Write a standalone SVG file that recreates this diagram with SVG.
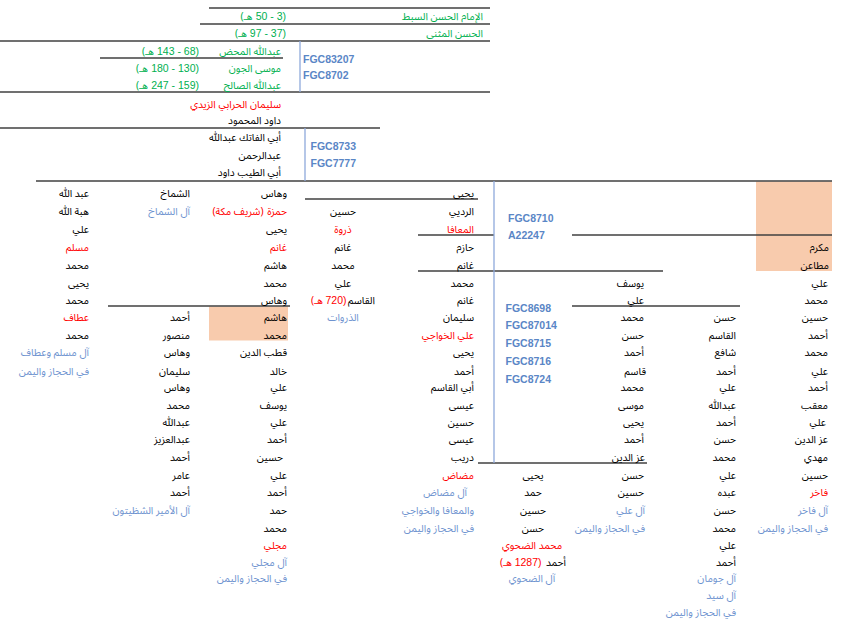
<svg xmlns="http://www.w3.org/2000/svg" width="851" height="628" viewBox="0 0 851 628">
<style>
text.t{font-family:"Noto Sans Arabic UI","Noto Sans Arabic","DejaVu Sans",sans-serif;font-size:10.3px;text-anchor:end;fill:#000}
text.d{font-family:"Liberation Sans",Arial,sans-serif;font-size:10.5px;text-anchor:end;fill:#000}
text.m{text-anchor:middle}
text.r{fill:#FF0000}
text.g{fill:#00B050}
text.b{fill:#6E93CF}
text.c{font-family:"Liberation Sans",Arial,sans-serif;font-weight:bold;font-size:10.5px;fill:#5A86C6}
.h line{stroke:#404040;stroke-width:1.3}
.v line{stroke:#8EA9DB;stroke-width:1.3}
.p{fill:#F8CBAD}
</style>
<rect width="851" height="628" fill="#fff"/>
<rect class="p" x="209" y="306.5" width="79" height="34"/>
<rect class="p" x="756" y="181.5" width="76" height="89.5"/>
<g id="connectors">
<g class="h">
<line x1="209" y1="8" x2="490" y2="8"/>
<line x1="200" y1="24" x2="490" y2="24"/>
<line x1="0" y1="41" x2="490" y2="41"/>
<line x1="100" y1="58" x2="283" y2="58"/>
<line x1="0" y1="92" x2="490" y2="92"/>
<line x1="0" y1="128" x2="380" y2="128"/>
<line x1="36" y1="181" x2="832" y2="181"/>
<line x1="305" y1="199" x2="478" y2="199"/>
<line x1="418" y1="235" x2="494" y2="235"/>
<line x1="572" y1="235" x2="832" y2="235"/>
<line x1="418" y1="271" x2="663" y2="271"/>
<line x1="108" y1="306" x2="290" y2="306"/>
<line x1="572" y1="306" x2="740" y2="306"/>
<line x1="478" y1="463" x2="647" y2="463"/>
</g>
<g class="v">
<line x1="300" y1="41" x2="300" y2="92"/>
<line x1="305" y1="128" x2="305" y2="181"/>
<line x1="494" y1="181" x2="494" y2="463"/>
</g>
</g>
<g id="top">
<text class="t g" x="483" y="20">الإمام الحسن السبط</text>
<text class="d g" x="286" y="20">50 - 3)</text>
<text class="t g" x="252.5" y="20">(هـ</text>
<text class="t g" x="483" y="37">الحسن المثنى</text>
<text class="d g" x="286" y="37">97 - 37)</text>
<text class="t g" x="247" y="37">(هـ</text>
<text class="t g" x="281" y="55">عبدالله المحض</text>
<text class="d g" x="199" y="55">143 - 68)</text>
<text class="t g" x="154" y="55">(هـ</text>
<text class="t g" x="281" y="71.5">موسى الجون</text>
<text class="d g" x="199" y="71.5">180 - 130)</text>
<text class="t g" x="148" y="71.5">(هـ</text>
<text class="t g" x="281" y="88.5">عبدالله الصالح</text>
<text class="d g" x="199" y="88.5">247 - 159)</text>
<text class="t g" x="148" y="88.5">(هـ</text>
<text class="t r" x="281" y="107.5">سليمان الحرابي الزيدي</text>
<text class="t" x="281" y="123.5">داود المحمود</text>
<text class="t" x="281" y="141">أبي الفاتك عبدالله</text>
<text class="t" x="281" y="159">عبدالرحمن</text>
<text class="t" x="281" y="176">أبي الطيب داود</text>
</g>
<g id="codes">
<text class="c" x="303" y="62.5">FGC83207</text>
<text class="c" x="303" y="79">FGC8702</text>
<text class="c" x="310.5" y="150">FGC8733</text>
<text class="c" x="310.5" y="167">FGC7777</text>
<text class="c" x="508" y="222">FGC8710</text>
<text class="c" x="508" y="239">A22247</text>
<text class="c" x="505.5" y="312">FGC8698</text>
<text class="c" x="505.5" y="329">FGC87014</text>
<text class="c" x="505.5" y="347">FGC8715</text>
<text class="c" x="505.5" y="365">FGC8716</text>
<text class="c" x="505.5" y="383">FGC8724</text>
</g>
<g id="colA">
<text class="t" x="89" y="196.7">عبد الله</text>
<text class="t" x="89" y="214.7">هبة الله</text>
<text class="t" x="89" y="233">علي</text>
<text class="t r" x="89" y="250.7">مسلم</text>
<text class="t" x="89" y="269">محمد</text>
<text class="t" x="89" y="287">يحيى</text>
<text class="t" x="89" y="304">محمد</text>
<text class="t r" x="89" y="321">عطاف</text>
<text class="t" x="89" y="338.5">محمد</text>
<text class="t b" x="89" y="356.3">آل مسلم وعطاف</text>
<text class="t b" x="89" y="374.5">في الحجاز واليمن</text>
</g>
<g id="colB">
<text class="t" x="190" y="196.7">الشماخ</text>
<text class="t b" x="190" y="214.7">آل الشماخ</text>
<text class="t" x="190" y="321">أحمد</text>
<text class="t" x="190" y="338.5">منصور</text>
<text class="t" x="190" y="356.3">وهاس</text>
<text class="t" x="190" y="374.5">سليمان</text>
<text class="t" x="190" y="391">وهاس</text>
<text class="t" x="190" y="409">محمد</text>
<text class="t" x="190" y="425.7">عبدالله</text>
<text class="t" x="190" y="442.5">عبدالعزيز</text>
<text class="t" x="190" y="460.5">أحمد</text>
<text class="t" x="190" y="479">عامر</text>
<text class="t" x="190" y="496">أحمد</text>
<text class="t b" x="190" y="514">آل الأمير الشظيتون</text>
</g>
<g id="colC">
<text class="t" x="287" y="196.7">وهاس</text>
<text class="t r" x="287" y="214.7">حمزة</text>
<text class="t r" x="263.5" y="214.7">(شريف مكة)</text>
<text class="t" x="287" y="233">يحيى</text>
<text class="t r" x="287" y="250.7">غانم</text>
<text class="t" x="287" y="269">هاشم</text>
<text class="t" x="287" y="287">محمد</text>
<text class="t" x="287" y="304">وهاس</text>
<text class="t" x="287" y="321">هاشم</text>
<text class="t" x="287" y="338.5">محمد</text>
<text class="t" x="287" y="356.3">قطب الدين</text>
<text class="t" x="287" y="374.5">خالد</text>
<text class="t" x="287" y="391">علي</text>
<text class="t" x="287" y="409">يوسف</text>
<text class="t" x="287" y="425.7">علي</text>
<text class="t" x="287" y="442.5">أحمد</text>
<text class="t" x="283" y="460.5">حسين</text>
<text class="t" x="287" y="479">علي</text>
<text class="t" x="287" y="496">أحمد</text>
<text class="t" x="287" y="514">حمد</text>
<text class="t" x="287" y="532.3">محمد</text>
<text class="t r" x="287" y="549">مجلي</text>
<text class="t b" x="287" y="566">آل مجلي</text>
<text class="t b" x="287" y="582.3">في الحجاز واليمن</text>
</g>
<g id="colD">
<text class="t m" x="343" y="214.7">حسين</text>
<text class="t m r" x="343" y="233">ذروة</text>
<text class="t m" x="343" y="250.7">غانم</text>
<text class="t m" x="343" y="269">محمد</text>
<text class="t m" x="343" y="287">علي</text>
<text class="t" x="375" y="304">القاسم</text>
<text class="d r" x="346.5" y="304">720)</text>
<text class="t r" x="323" y="304">(هـ</text>
<text class="t m b" x="343" y="321">الذروات</text>
</g>
<g id="colE">
<text class="t" x="474" y="196.7">يحيى</text>
<text class="t" x="474" y="214.7">الرديي</text>
<text class="t r" x="474" y="233">المعافا</text>
<text class="t" x="474" y="250.7">حازم</text>
<text class="t" x="474" y="269">غانم</text>
<text class="t" x="474" y="287">محمد</text>
<text class="t" x="474" y="304">غانم</text>
<text class="t" x="474" y="321">سليمان</text>
<text class="t r" x="474" y="338.5">علي الخواجي</text>
<text class="t" x="474" y="356.3">يحيى</text>
<text class="t" x="474" y="374.5">أحمد</text>
<text class="t" x="474" y="391">أبي القاسم</text>
<text class="t" x="474" y="409">عيسى</text>
<text class="t" x="474" y="425.7">حسين</text>
<text class="t" x="474" y="442.5">عيسى</text>
<text class="t" x="474" y="460.5">دريب</text>
<text class="t r" x="474" y="479">مضاض</text>
<text class="t b" x="467" y="496">آل مضاض</text>
<text class="t b" x="474" y="514">والمعافا والخواجي</text>
<text class="t b" x="474" y="532.3">في الحجاز واليمن</text>
</g>
<g id="colG">
<text class="t" x="644" y="287">يوسف</text>
<text class="t" x="644" y="304">علي</text>
<text class="t" x="644" y="321">محمد</text>
<text class="t" x="644" y="338.5">حسن</text>
<text class="t" x="644" y="356.3">أحمد</text>
<text class="t" x="646" y="374.5">قاسم</text>
<text class="t" x="644" y="391">محمد</text>
<text class="t" x="644" y="409">موسى</text>
<text class="t" x="644" y="425.7">يحيى</text>
<text class="t" x="644" y="442.5">أحمد</text>
<text class="t" x="645" y="460.5">عز الدين</text>
<text class="t" x="644" y="479">حسن</text>
<text class="t" x="644" y="496">حسين</text>
<text class="t b" x="645" y="514">آل علي</text>
<text class="t b" x="645" y="532.3">في الحجاز واليمن</text>
</g>
<g id="colH">
<text class="t" x="736" y="321">حسن</text>
<text class="t" x="736" y="338.5">القاسم</text>
<text class="t" x="736" y="356.3">شافع</text>
<text class="t" x="736" y="374.5">أحمد</text>
<text class="t" x="736" y="391">علي</text>
<text class="t" x="736" y="409">عبدالله</text>
<text class="t" x="736" y="425.7">أحمد</text>
<text class="t" x="736" y="442.5">حسن</text>
<text class="t" x="736" y="460.5">محمد</text>
<text class="t" x="736" y="479">علي</text>
<text class="t" x="736" y="496">عبده</text>
<text class="t" x="736" y="514">حسن</text>
<text class="t" x="736" y="532.3">محمد</text>
<text class="t" x="736" y="549">علي</text>
<text class="t" x="736" y="566">أحمد</text>
<text class="t b" x="736" y="582.3">آل جومان</text>
<text class="t b" x="736" y="599">آل سيد</text>
<text class="t b" x="736" y="615.7">في الحجاز واليمن</text>
</g>
<g id="colI">
<text class="t" x="829" y="250.7">مكرم</text>
<text class="t" x="829" y="269">مطاعن</text>
<text class="t" x="828" y="287">علي</text>
<text class="t" x="828" y="304">محمد</text>
<text class="t" x="828" y="321">حسين</text>
<text class="t" x="828" y="338.5">أحمد</text>
<text class="t" x="828" y="356.3">محمد</text>
<text class="t" x="828" y="374.5">علي</text>
<text class="t" x="828" y="391">أحمد</text>
<text class="t" x="828" y="409">معقب</text>
<text class="t" x="826" y="425.7">علي</text>
<text class="t" x="828" y="442.5">عز الدين</text>
<text class="t" x="828" y="460.5">مهدي</text>
<text class="t" x="828" y="479">حسين</text>
<text class="t r" x="828" y="496">فاخر</text>
<text class="t b" x="828" y="514">آل فاخر</text>
<text class="t b" x="828" y="532.3">في الحجاز واليمن</text>
</g>
<g id="colJ">
<text class="t m" x="533" y="479">يحيى</text>
<text class="t m" x="533" y="496">حمد</text>
<text class="t m" x="533" y="514">حسين</text>
<text class="t m" x="533" y="532.3">حسن</text>
<text class="t m r" x="532" y="549">محمد الضحوي</text>
<text class="t" x="566" y="566">أحمد</text>
<text class="d r" x="541.5" y="566">1287)</text>
<text class="t r" x="512" y="566">(هـ</text>
<text class="t m b" x="532" y="582.3">آل  الضحوي</text>
</g>
</svg>
